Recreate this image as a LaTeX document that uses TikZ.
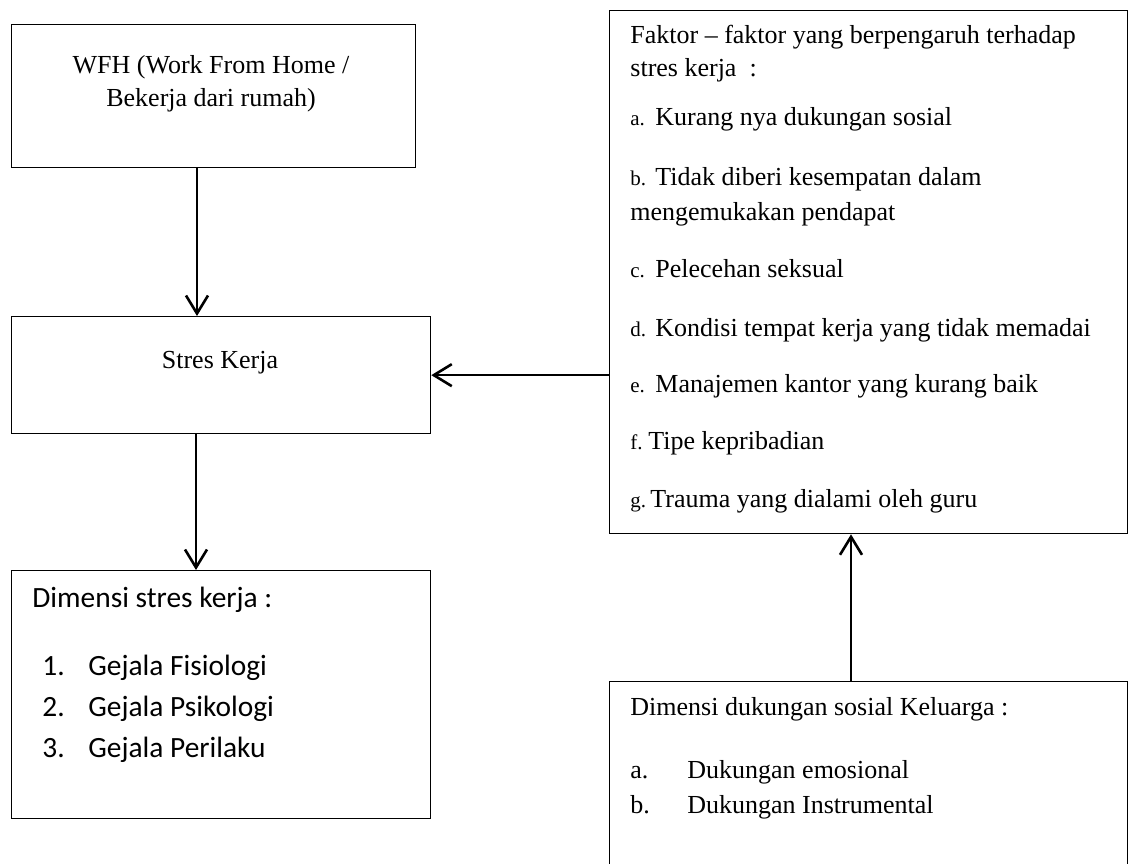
\documentclass[tikz,border=0pt]{standalone}
\usepackage{fontspec}
\setmainfont{Liberation Serif}
\newfontfamily\calibri{Carlito}
\usetikzlibrary{arrows.meta}

\tikzset{
    box/.style = {draw, line width = 0.65pt, inner sep = 0pt, anchor = north west},
    txt/.style = {inner sep = 0pt, anchor = base west, font = \fontsize{13}{16}\selectfont},
    cbtxt/.style = {inner sep = 0pt, anchor = base west, font = \calibri\fontsize{14.7}{18}\selectfont},
    conn/.style = {line width = 1.3pt, -{Straight Barb[length = 9pt, width = 11pt]}},
}
\newcommand{\lbl}[1]{{\fontsize{10.5}{12}\selectfont #1}}
\newcommand{\itm}[2]{\makebox[#1][l]{\lbl{#2}}}
\newcommand{\nitm}[2]{\makebox[23pt][l]{#1}#2}

\begin{document}
\begin{tikzpicture}[x = 0.5pt, y = -0.5pt]
                \useasboundingbox (0,0) rectangle (1129,863);

                \node[box, minimum width = 202pt, minimum height = 71.5pt] (wfh) at (11,24) {};
                \node[box, minimum width = 209.5pt, minimum height = 58.5pt] (stres) at (11,316) {};
                \node[box, minimum width = 209.5pt, minimum height = 124pt] (dimensi) at (11,570) {};
                \node[box, minimum width = 259pt, minimum height = 261.5pt] (faktor) at (609,10) {};
                \node[box, minimum width = 259pt, minimum height = 104.5pt] (keluarga) at (609,681) {};

                \node[txt, anchor = base] (wfh-1) at (211,73) {WFH (Work From Home /};
                \node[txt, anchor = base] (wfh-2) at (211,106) {Bekerja dari rumah)};
                \node[txt, anchor = base] (stres-1) at (220,368) {Stres Kerja};

                \node[cbtxt] (dimensi-0) at (32,607) {Dimensi stres kerja :};
                \foreach \y/\t [count = \i] in {675/{\nitm{1.}{Gejala Fisiologi}}, 716/{\nitm{2.}{Gejala Psikologi}}, 757/{\nitm{3.}{Gejala Perilaku}}}
                    \node[cbtxt] (dimensi-\i) at (42,\y) {\t};

                \foreach \y/\t [count = \i] in {
                        43/{Faktor – faktor yang berpengaruh terhadap},
                        76/{stres kerja\ \ :},
                        125/{\itm{12.5pt}{a.}Kurang nya dukungan sosial},
                        185/{\itm{12.5pt}{b.}Tidak diberi kesempatan dalam},
                        220/{mengemukakan pendapat},
                        277/{\itm{12.5pt}{c.}Pelecehan seksual},
                        336/{\itm{12.5pt}{d.}Kondisi tempat kerja yang tidak memadai},
                        392/{\itm{12.5pt}{e.}Manajemen kantor yang kurang baik},
                        449/{\itm{9pt}{f.}Tipe kepribadian},
                        507/{\itm{10pt}{g.}Trauma yang dialami oleh guru}}
                    \node[txt] (faktor-\i) at (630,\y) {\t};

                \node[txt] (keluarga-0) at (630,715) {Dimensi dukungan sosial Keluarga :};
                \node[txt] (keluarga-1) at (630,778) {\makebox[28.5pt][l]{a.}Dukungan emosional};
                \node[txt] (keluarga-2) at (630,813) {\makebox[28.5pt][l]{b.}Dukungan Instrumental};

                \draw[conn] ([xshift = 93pt]wfh.south west) -- ([xshift = 93pt]stres.north west);
                \draw[conn] ([xshift = 92.5pt]stres.south west) -- ([xshift = 92.5pt]dimensi.north west);
                \draw[conn] (faktor.west |- stres.east) -- (stres.east);
                \draw[conn] ([xshift = 121pt]keluarga.north west) -- ([xshift = 121pt]faktor.south west);
\end{tikzpicture}
\end{document}
